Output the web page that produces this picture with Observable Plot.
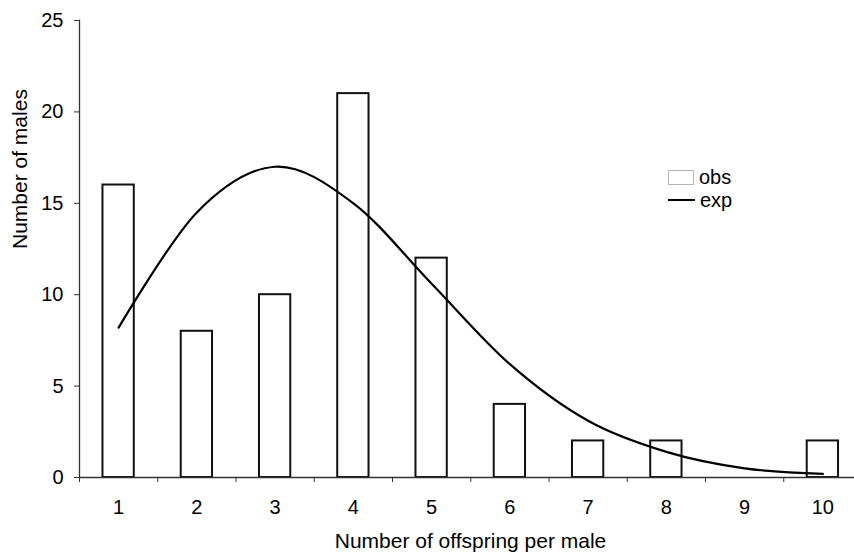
<!DOCTYPE html>
<html>
<head>
<meta charset="utf-8">
<script src="https://cdn.jsdelivr.net/npm/d3@7"></script>
<script src="https://cdn.jsdelivr.net/npm/@observablehq/plot@0.6"></script>
<style>
  html, body { margin: 0; padding: 0; background: white; }
  #wrap { position: relative; width: 854px; height: 552px; overflow: hidden; font-family: "Liberation Sans", Arial, sans-serif; }
  #legend { position: absolute; left: 668px; top: 167px; font-size: 20px; color: #000; line-height: 1; }
  .lrow { display: flex; align-items: center; height: 20px; margin-bottom: 3px; }
  .lbox { width: 26px; height: 15px; border: 1px solid #b5b5b5; box-sizing: border-box; margin-right: 5px; }
  .lline { width: 27px; height: 2px; background: #000; margin-right: 5px; }
</style>
</head>
<body>
<div id="wrap">
  <div id="chart"></div>
  <div id="legend">
    <div class="lrow"><div class="lbox"></div><span>obs</span></div>
    <div class="lrow"><div class="lline"></div><span>exp</span></div>
  </div>
</div>
<script>
const offspring = [1, 2, 3, 4, 5, 6, 7, 8, 9, 10];
const observed = [16, 8, 10, 21, 12, 4, 2, 2, 0, 2];
const expected = [8.2, 14.5, 17.0, 15.0, 10.6, 6.2, 3.1, 1.4, 0.5, 0.2];
const yTicks = [0, 5, 10, 15, 20, 25];
const xTitle = "Number of offspring per male";
const yTitle = "Number of males";

const data = offspring.map((k, i) => ({k, obs: observed[i], exp: expected[i]}));
const boundaries = offspring.map(k => k - 0.5).concat([offspring[offspring.length - 1] + 0.5]);
const halfBar = 0.2;

const chart = Plot.plot({
  width: 854,
  height: 552,
  marginLeft: 79,
  marginRight: 0,
  marginTop: 20,
  marginBottom: 75,
  x: {domain: [0.5, 10.5], range: [79, 861.5]},
  y: {domain: [0, 25]},
  style: {fontFamily: "'Liberation Sans', Arial, sans-serif", fontSize: "20px", color: "#000", background: "white"},
  marks: [
    Plot.rectY(data, {x1: d => d.k - halfBar, x2: d => d.k + halfBar, y: "obs", fill: "white", stroke: "#111", strokeWidth: 2}),
    Plot.line(data, {x: "k", y: "exp", curve: "cardinal", stroke: "#000", strokeWidth: 2.2}),
    Plot.axisY({ticks: yTicks, tickSize: 5, tickPadding: 11, label: null, stroke: "#333"}),
    Plot.axisX({ticks: offspring, tickSize: 0, tickPadding: 22, label: null}),
    Plot.axisX({ticks: boundaries, tickSize: 5, tickFormat: () => "", label: null, stroke: "#333"}),
    Plot.ruleY([0], {stroke: "#333", strokeWidth: 1.3}),
    Plot.frame({anchor: "left", stroke: "#333", strokeWidth: 1.3}),
    Plot.text([xTitle], {frameAnchor: "bottom", dy: 70, dx: 3.5, lineAnchor: "bottom", fontSize: 21, fill: "#000"}),
    Plot.text([yTitle], {frameAnchor: "left", dx: -59, rotate: -90, fontSize: 21, fill: "#000"})
  ]
});
document.getElementById("chart").appendChild(chart);
</script>
</body>
</html>
